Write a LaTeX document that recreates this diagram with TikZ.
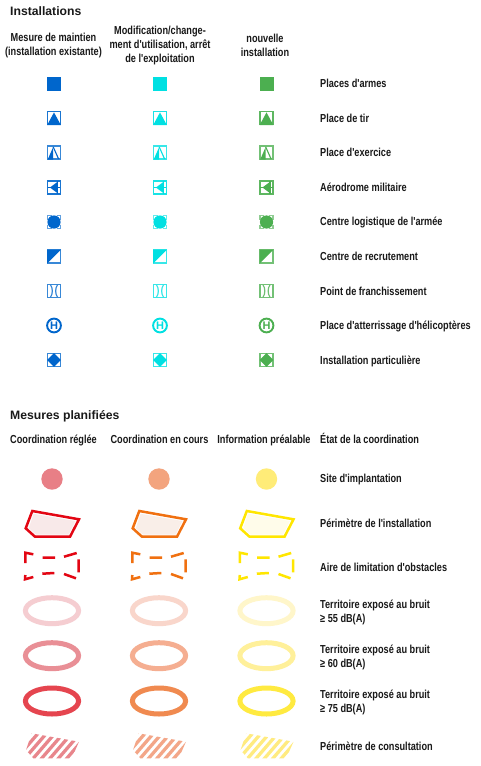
\documentclass[tikz,border=0pt]{standalone}
\usepackage{fontspec}
\setmainfont{Liberation Sans}
\newfontfamily\narrowbf[FakeStretch=0.79]{Liberation Sans Bold}
\definecolor{cblue}{HTML}{0066CC}
\definecolor{ccyan}{HTML}{00E0E2}
\definecolor{cgreen}{HTML}{4CAF50}
\definecolor{pred}{HTML}{E30613}
\definecolor{porange}{HTML}{F07010}
\definecolor{pyellow}{HTML}{FFE600}
\tikzset{
  lab/.style={inner sep=0pt,anchor=base west,font=\narrowbf\fontsize{11.6}{14}\selectfont,text=black!90},
  labb/.style={inner sep=0pt,anchor=west,align=left,font=\narrowbf\fontsize{11.6}{14}\selectfont,text=black!90},
  cen/.style={inner sep=0pt,align=center,font=\narrowbf\fontsize{11.6}{14}\selectfont,text=black!90},
  cenb/.style={inner sep=0pt,anchor=base,font=\narrowbf\fontsize{11.6}{14}\selectfont,text=black!90},
  ttl/.style={inner sep=0pt,anchor=base west,font=\bfseries\fontsize{12.2}{15}\selectfont,text=black!90},
  frame/.style={draw=#1!78,line width=1.5pt,fill=white},
  framel/.style={draw=#1!62,line width=1.5pt,fill=white},
  frameh/.style={draw=#1!90,line width=1.5pt,fill=white},
}
\begin{document}
\begin{tikzpicture}[x=1pt,y=-1pt]
\path[fill=white,use as bounding box] (0,0) rectangle (480,766);
\node[ttl] (t1) at (10,15.5) {Installations};
\node[cen] (h1) at (53.5,45) {Mesure de maintien\\(installation existante)};
\node[cen] (h2) at (160,45) {Modification/change-\\ment d'utilisation, arrêt\\de l'exploitation};
\node[cen] (h3) at (265,45) {nouvelle\\installation};
\node[lab] (r1) at (320,87.5) {Places d'armes};
\node[lab] (r2) at (320,122) {Place de tir};
\node[lab] (r3) at (320,156.5) {Place d'exercice};
\node[lab] (r4) at (320,191) {Aérodrome militaire};
\node[lab] (r5) at (320,225.5) {Centre logistique de l'armée};
\node[lab] (r6) at (320,260.5) {Centre de recrutement};
\node[lab] (r7) at (320,295) {Point de franchissement};
\node[lab] (r8) at (320,329.5) {Place d'atterrissage d'hélicoptères};
\node[lab] (r9) at (320,364) {Installation particulière};
\node[ttl] (t2) at (10,419) {Mesures planifiées};
\node[cenb] (c1) at (53.5,443.5) {Coordination réglée};
\node[cenb] (c2) at (159.5,443.5) {Coordination en cours};
\node[cenb] (c3) at (264,443.5) {Information préalable};
\node[lab] (s0) at (320,443.5) {État de la coordination};
\node[lab] (s1) at (320,482.5) {Site d'implantation};
\node[lab] (s2) at (320,527) {Périmètre de l'installation};
\node[lab] (s3) at (320,571.5) {Aire de limitation d'obstacles};
\node[labb] (s4) at (320,612.5) {Territoire exposé au bruit\\≥ 55 dB(A)};
\node[labb] (s5) at (320,657.5) {Territoire exposé au bruit\\≥ 60 dB(A)};
\node[labb] (s6) at (320,702.5) {Territoire exposé au bruit\\≥ 75 dB(A)};
\node[lab] (s7) at (320,750.5) {Périmètre de consultation};
% symbols
\foreach \cx/\col/\hn in {54/cblue/a,160/ccyan/b,266.5/cgreen/c}{
  \begin{scope}[shift={(\cx,83.5)}]
    \path[fill=\col] (-7,-7) rectangle (7,7);
  \end{scope}
  \begin{scope}[shift={(\cx,118)}]
    \path[frameh=\col] (-6.3,-6.3) rectangle (6.3,6.3);
    \fill[\col] (0,-5.6) -- (6.8,7) -- (-6.8,7) -- cycle;
  \end{scope}
  \begin{scope}[shift={(\cx,152.5)}]
    \path[frame=\col] (-6.3,-6.3) rectangle (6.3,6.3);
    \fill[\col] (-0.8,-5.6) -- (-0.8,7) -- (-6.3,7) -- cycle;
    \draw[\col,line width=1.1pt] (-0.8,-5.6) -- (4.6,6.5);
  \end{scope}
  \begin{scope}[shift={(\cx,187.5)}]
    \path[frameh=\col] (-6.3,-6.3) rectangle (6.3,6.3);
    \fill[\col] (-4,0) -- (3.4,-5.6) -- (3.4,5.6) -- cycle;
    \draw[\col,line width=1.4pt] (-6.3,0) -- (-3,0) (3.2,0) -- (6.3,0) (3.4,-6.3) -- (3.4,6.3);
  \end{scope}
  \begin{scope}[shift={(\cx,222)}]
    \path[framel=\col] (-6.3,-6.3) rectangle (6.3,6.3);
    \fill[white] (0,0) circle (8);
    \draw[\col!62,line width=1.5pt] (-6.3,-6.3) -- (-2.5,-6.3) (2.5,-6.3) -- (6.3,-6.3) (-6.3,6.3) -- (-2.5,6.3) (2.5,6.3) -- (6.3,6.3)
      (-6.3,-6.3) -- (-6.3,-2.5) (-6.3,2.5) -- (-6.3,6.3) (6.3,-6.3) -- (6.3,-2.5) (6.3,2.5) -- (6.3,6.3);
    \fill[\col] (0,0) circle (6.6);
  \end{scope}
  \begin{scope}[shift={(\cx,256.5)}]
    \path[frame=\col] (-6.3,-6.3) rectangle (6.3,6.3);
    \fill[\col] (-7,-7) -- (7,-7) -- (-7,7) -- cycle;
  \end{scope}
  \begin{scope}[shift={(\cx,291)}]
    \path[frame=\col] (-6.3,-6.3) rectangle (6.3,6.3);
    \draw[\col!80,line width=1.2pt] (-3.6,-6.3) .. controls (-1,-3) and (-1,3) .. (-3.6,6.3)
      (3.6,-6.3) .. controls (1,-3) and (1,3) .. (3.6,6.3);
  \end{scope}
  \begin{scope}[shift={(\cx,325.5)}]
    \draw[\col,line width=1.9pt] (0,0) circle (6.9);
    \node[inner sep=0pt,text=\col,font=\bfseries\fontsize{11}{11}\selectfont] (hl\hn) at (0,0) {H};
  \end{scope}
  \begin{scope}[shift={(\cx,360)}]
    \path[frame=\col] (-6.3,-6.3) rectangle (6.3,6.3);
    \fill[\col] (0,-6.8) -- (6.8,0) -- (0,6.8) -- (-6.8,0) -- cycle;
  \end{scope}
}
% planned
\foreach \dx/\col/\disc/\ra/\rb/\rc/\hat/\inn in {
  0/pred/E87F86/F5CDD1/E98F96/E5454F/E8868C/F8E9E9,
  107/porange/F3A47E/F9D6CB/F5AE91/F08A50/F3A688/F9EEE8,
  214.5/pyellow/FFEC78/FFF6CA/FFF09A/FFEA40/FFEB80/FFFCEA}{
  \begin{scope}[xshift=\dx pt]
    \definecolor{dc}{HTML}{\disc}\definecolor{ra}{HTML}{\ra}\definecolor{rb}{HTML}{\rb}
    \definecolor{rc}{HTML}{\rc}\definecolor{hc}{HTML}{\hat}\definecolor{ic}{HTML}{\inn}
    \fill[dc] (52,479) circle (10.7);
    % installation perimeter
    \fill[ic] (33.6,513.8) -- (75.4,521) -- (68.6,534.6) -- (36,534.6) -- (28.8,528.2) -- cycle;
    \draw[\col,line width=2.5pt,line join=miter] (32.3,511) -- (79,519.3) -- (70,536.7) -- (35,536.7) -- (25.7,528.3) -- cycle;
    % obstacles
    \draw[\col,line width=2.5pt] (33.3,554.3) -- (25.3,552.7) -- (25.3,563)
      (42.7,557.7) -- (55,557.7) (64,556.7) -- (76.7,553) (78.7,559.3) -- (78.7,572.3)
      (64,574) -- (76,578.3) (42.3,573.7) -- (54.3,573)
      (25.3,575) -- (25,579.3) -- (33.3,577);
    % rings
    \draw[ra,line width=5pt] (52,610.7) ellipse [x radius=26.6,y radius=13];
    \draw[rb,line width=5pt] (52,655.7) ellipse [x radius=26.6,y radius=13];
    \draw[rc,line width=5pt] (52,701) ellipse [x radius=26.6,y radius=13];
    % consultation
    \begin{scope}
      \path[clip] (31.7,733.3) -- (79,741.7) -- (71.7,758.3) -- (33.3,758.3) -- (26,750) -- cycle;
      \foreach \k in {-1,...,8}{
        \draw[hc,line width=3.3pt] (15+\k*8.4,760) -- ++(26,-30);
      }
    \end{scope}
  \end{scope}
}
\end{tikzpicture}
\end{document}
